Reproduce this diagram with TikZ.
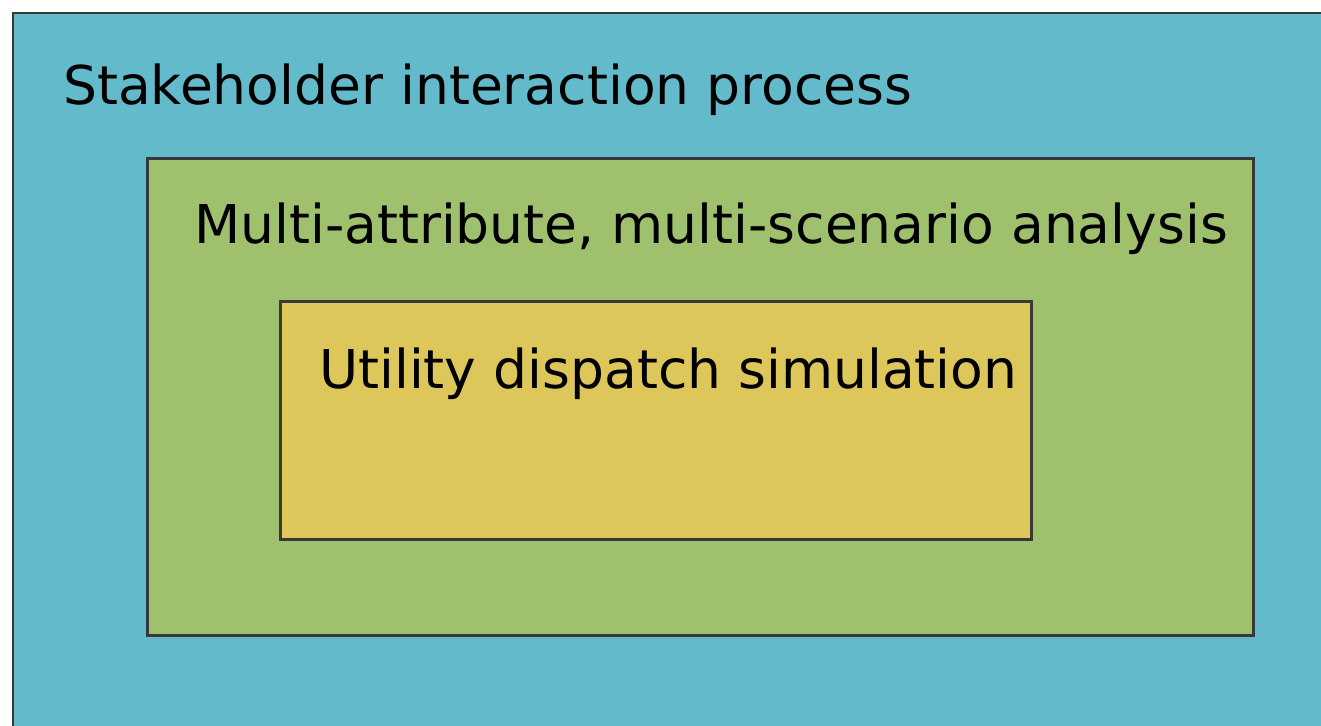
\documentclass[tikz,border=0pt]{standalone}
\usepackage{fontspec}
\setmainfont{DejaVu Sans}
\definecolor{outerblue}{HTML}{63BACB}
\definecolor{midgreen}{HTML}{9FC16D}
\definecolor{inneryellow}{HTML}{DDC65A}
\definecolor{edgegray}{HTML}{383838}
\tikzset{
  layerbox/.style={draw=edgegray, line width=2.5pt, rectangle, inner sep=0pt},
  layertext/.style={anchor=base west, inner sep=0pt, font=\fontsize{53.5}{64}\selectfont}
}
\begin{document}
\begin{tikzpicture}[x=1pt,y=-1pt]
\useasboundingbox (0,0) rectangle (1321,725);
\clip (0,0) rectangle (1321,725);
\fill[white] (0,0) rectangle (1321,725);
\draw[layerbox, fill=outerblue] (13,13) rectangle (1340,745);
\node[layerbox, fill=midgreen, minimum width=1106pt, minimum height=477pt, anchor=north west] (green) at (146,157) {};
\node[layerbox, fill=inneryellow, minimum width=751pt, minimum height=238pt, anchor=north west] (yellow) at (279,300) {};
\node[layertext] (t1) at (63,104) {Stakeholder interaction process};
\node[layertext] (t2) at (194,243) {Multi-attribute, multi-scenario analysis};
\node[layertext] (t3) at (319,388) {Utility dispatch simulation};
\end{tikzpicture}
\end{document}
